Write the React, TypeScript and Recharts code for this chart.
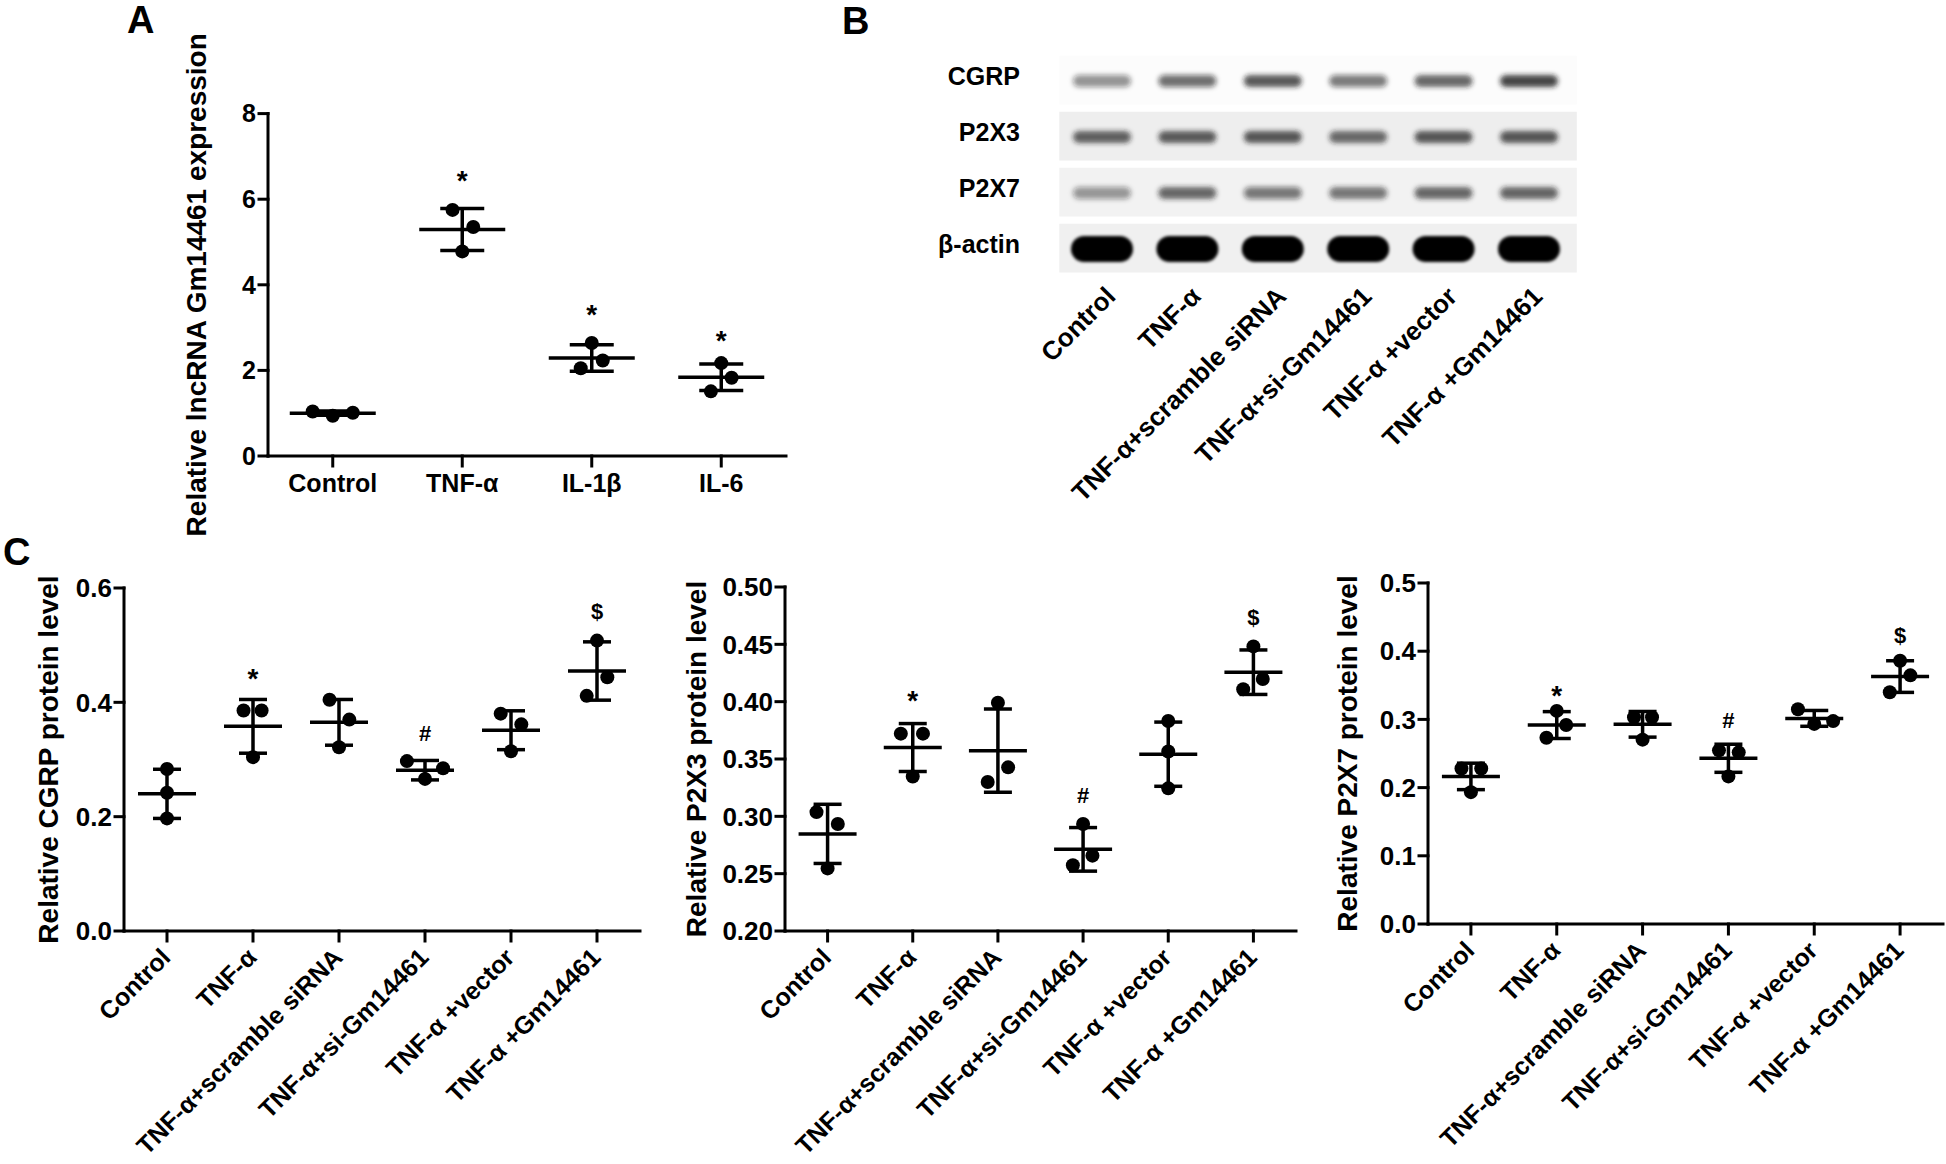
import React from 'react';
import { ScatterChart, Scatter, XAxis, YAxis, ErrorBar, ReferenceArea } from 'recharts';

const FONT = '"Liberation Sans", Arial, Helvetica, sans-serif';

// ---- Panel A: relative lncRNA Gm14461 expression ----
const A_GROUPS = ['Control', 'TNF-α', 'IL-1β', 'IL-6'];
const A_POINTS = [
  [1.04, 0.94, 1.01],
  [5.75, 4.78, 5.35],
  [2.05, 2.64, 2.23],
  [1.51, 2.17, 1.83],
];
const A_JITTER = [
  [-0.155, 0, 0.155],
  [-0.075, 0, 0.085],
  [-0.085, 0, 0.085],
  [-0.08, 0, 0.08],
];
const A_MEAN = [1.0, 5.29, 2.29, 1.84];
const A_SD = [0.05, 0.49, 0.31, 0.31];
const A_MARKS = ['', '*', '*', '*'];
const A_MARK_Y = [0, 6.59, 3.46, 2.85];
const A_TICKS = [0, 2, 4, 6, 8];

// ---- Panel B: western blot ----
const LANES = [
  'Control',
  'TNF-α',
  'TNF-α+scramble siRNA',
  'TNF-α+si-Gm14461',
  'TNF-α +vector',
  'TNF-α +Gm14461',
];
const BLOT_ROWS = ['CGRP', 'P2X3', 'P2X7', 'β-actin'];
const BLOT_DENSITY = [
  [0.45, 0.6, 0.72, 0.55, 0.66, 0.8],
  [0.68, 0.7, 0.72, 0.64, 0.72, 0.72],
  [0.42, 0.65, 0.55, 0.58, 0.65, 0.66],
  [1, 1, 1, 1, 1, 1],
];

// ---- Panel C: relative protein levels ----
const C_MARKS = ['', '*', '', '#', '', '$'];

const CGRP_POINTS = [
  [0.2834, 0.2419, 0.197],
  [0.3857, 0.3041, 0.3857],
  [0.4044, 0.3214, 0.3698],
  [0.2972, 0.2661, 0.2848],
  [0.3802, 0.3145, 0.3615],
  [0.4113, 0.508, 0.4438],
];
const CGRP_JITTER = [
  [0, 0, 0],
  [-0.11, 0, 0.1],
  [-0.11, 0, 0.12],
  [-0.21, 0, 0.21],
  [-0.12, 0, 0.12],
  [-0.12, 0, 0.12],
];
const CGRP_MEAN = [0.2399, 0.358, 0.365, 0.2813, 0.3512, 0.4548];
const CGRP_SD = [0.043, 0.047, 0.04, 0.017, 0.034, 0.051];
const CGRP_MARK_Y = [0, 0.4528, 0, 0.347, 0, 0.5585];
const CGRP_TICKS = [0, 0.2, 0.4, 0.6];

const P2X3_POINTS = [
  [0.3037, 0.2546, 0.2933],
  [0.3721, 0.3348, 0.3721],
  [0.33, 0.399, 0.3427],
  [0.2574, 0.2933, 0.2657],
  [0.3832, 0.3566, 0.3244],
  [0.4108, 0.4482, 0.4198],
];
const P2X3_JITTER = [
  [-0.13, 0, 0.12],
  [-0.14, 0, 0.12],
  [-0.12, 0, 0.12],
  [-0.12, 0, 0.11],
  [0, 0, 0],
  [-0.12, 0, 0.11],
];
const P2X3_MEAN = [0.2847, 0.36, 0.3573, 0.2712, 0.3542, 0.4257];
const P2X3_SD = [0.0258, 0.0209, 0.0363, 0.019, 0.028, 0.0194];
const P2X3_MARK_Y = [0, 0.4067, 0, 0.3186, 0, 0.474];
const P2X3_TICKS = [0.2, 0.25, 0.3, 0.35, 0.4, 0.45, 0.5];

const P2X7_POINTS = [
  [0.228, 0.1933, 0.228],
  [0.2731, 0.3125, 0.2917],
  [0.3032, 0.2703, 0.3032],
  [0.2546, 0.2164, 0.2517],
  [0.3148, 0.2934, 0.2975],
  [0.3397, 0.386, 0.3646],
];
const P2X7_JITTER = [
  [-0.11, 0, 0.12],
  [-0.12, 0, 0.11],
  [-0.1, 0, 0.11],
  [-0.11, 0, 0.12],
  [-0.19, 0, 0.22],
  [-0.12, 0, 0.12],
];
const P2X7_MEAN = [0.2164, 0.2917, 0.2928, 0.243, 0.3015, 0.3628];
const P2X7_SD = [0.0194, 0.0197, 0.0188, 0.0206, 0.0116, 0.0232];
const P2X7_MARK_Y = [0, 0.3455, 0, 0.2992, 0, 0.4236];
const P2X7_TICKS = [0, 0.1, 0.2, 0.3, 0.4, 0.5];

const AXIS = { stroke: '#000', strokeWidth: 3, strokeLinecap: 'square' as const };
const MARK_SHIFT: Record<string, number> = { '*': 0.58, '#': 0.36, $: 0.35 };

const dotShape = (r: number) => (p: any) => <circle cx={p.cx} cy={p.cy} r={r} fill="#000" />;

const meanShape = (half: number) => (p: any) => (
  <line x1={p.cx - half} x2={p.cx + half} y1={p.cy} y2={p.cy} stroke="#000" strokeWidth={3.5} />
);

const markShape = (p: any) => {
  const mark = p.payload.mark;
  const fs = mark === '*' ? 28 : 22;
  return (
    <text x={p.cx} y={p.cy + MARK_SHIFT[mark] * fs} textAnchor="middle" fontSize={fs} fontWeight={700} fontFamily={FONT} fill="#000">
      {mark}
    </text>
  );
};

const rotTick = (names: string[], dx: number, dy: number, fs: number) => (p: any) => {
  const x = p.x + dx;
  const y = p.y + dy;
  return (
    <text x={x} y={y} transform={`rotate(-45 ${x} ${y})`} textAnchor="end" fontSize={fs} fontWeight={700} fontFamily={FONT} fill="#000">
      {names[p.payload.value]}
    </text>
  );
};

const flatTick = (names: string[], dy: number, fs: number) => (p: any) => (
  <text x={p.x} y={p.y + dy} textAnchor="middle" fontSize={fs} fontWeight={700} fontFamily={FONT} fill="#000">
    {names[p.payload.value]}
  </text>
);

const yTitle = (text: string, x: number, cy: number, fs: number) => () => (
  <text x={x} y={cy} transform={`rotate(-90 ${x} ${cy})`} textAnchor="middle" dominantBaseline="central" fontSize={fs} fontWeight={700} fontFamily={FONT} fill="#000">
    {text}
  </text>
);

interface DotPlotProps {
  left: number;
  top: number;
  width: number;
  height: number;
  plot: { x0: number; x1: number; y0: number; y1: number };
  groups: string[];
  points: number[][];
  jitter: number[][];
  mean: number[];
  sd: number[];
  marks: string[];
  markY: number[];
  domain: [number, number];
  ticks: number[];
  digits: number;
  title: string;
  titleX: number;
  rotate: boolean;
  meanHalf: number;
  capHalf: number;
  dotR: number;
  tickFont: number;
}

function DotPlot(p: DotPlotProps) {
  const yw = p.plot.x0 - p.left;
  const mr = p.left + p.width - p.plot.x1;
  const mt = p.plot.y0 - p.top;
  const xh = p.top + p.height - p.plot.y1;
  const titleCy = (p.plot.y0 + p.plot.y1) / 2 - p.top;

  const pts = p.points.flatMap((g, i) => g.map((v, j) => ({ x: i + p.jitter[i][j], y: v })));
  const means = p.mean.map((m, i) => ({ x: i, y: m, sd: p.sd[i] }));
  const marks = p.marks.map((m, i) => ({ x: i, y: p.markY[i], mark: m })).filter((r) => r.mark);

  return (
    <div style={{ position: 'absolute', left: p.left, top: p.top, width: p.width, height: p.height }}>
      <ScatterChart width={p.width} height={p.height} margin={{ top: mt, right: mr, bottom: 0, left: 0 }}>
        <XAxis
          type="number"
          dataKey="x"
          domain={[-0.5, p.groups.length - 0.5]}
          ticks={p.groups.map((_, i) => i)}
          interval={0}
          height={xh}
          axisLine={AXIS}
          tickLine={AXIS}
          tickSize={10}
          tick={p.rotate ? rotTick(p.groups, 5, 16, 25) : flatTick(p.groups, 24, 25)}
        />
        <YAxis
          type="number"
          dataKey="y"
          domain={p.domain}
          ticks={p.ticks}
          allowDataOverflow
          interval={0}
          width={yw}
          axisLine={AXIS}
          tickLine={AXIS}
          tickSize={9}
          tickMargin={3}
          tickFormatter={(v: number) => v.toFixed(p.digits)}
          tick={{ fill: '#000', fontSize: p.tickFont, fontWeight: 700, fontFamily: FONT }}
          label={yTitle(p.title, p.titleX - p.left, titleCy, 28)}
        />
        <Scatter data={pts} shape={dotShape(p.dotR)} isAnimationActive={false} />
        <Scatter data={means} shape={meanShape(p.meanHalf)} isAnimationActive={false}>
          <ErrorBar dataKey="sd" direction="y" width={p.capHalf} strokeWidth={3.5} stroke="#000" isAnimationActive={false} />
        </Scatter>
        <Scatter data={marks} shape={markShape} isAnimationActive={false} />
      </ScatterChart>
    </div>
  );
}

const BAND_SIZE = [
  { w: 58, h: 12 },
  { w: 58, h: 12 },
  { w: 58, h: 12 },
  { w: 62, h: 26 },
];
const STRIP_FILL = ['#fcfcfc', '#eeeeee', '#f2f2f2', '#f0f0f0'];

const bandShape = (p: any) => {
  const s = BAND_SIZE[p.payload.row];
  const d = p.payload.d;
  return (
    <rect
      x={p.cx - s.w / 2}
      y={p.cy - s.h / 2}
      width={s.w}
      height={s.h}
      rx={s.h / 2}
      fill={d >= 1 ? '#000' : `rgba(25,25,25,${d})`}
      filter={d >= 1 ? 'url(#blurStrong)' : 'url(#blurSoft)'}
    />
  );
};

function Blot() {
  const left = 900;
  const top = 40;
  const width = 700;
  const height = 480;
  const bands = BLOT_DENSITY.flatMap((row, r) => row.map((d, l) => ({ x: l, y: r, d, row: r })));

  const rowTick = (p: any) => (
    <text x={120} y={p.y - 5} textAnchor="end" dominantBaseline="central" fontSize={25} fontWeight={700} fontFamily={FONT} fill="#000">
      {BLOT_ROWS[p.payload.value]}
    </text>
  );
  const laneTick = (p: any) => {
    const x = p.x + 15;
    const y = 258;
    return (
      <text x={x} y={y} transform={`rotate(-45 ${x} ${y})`} textAnchor="end" fontSize={26} fontWeight={700} fontFamily={FONT} fill="#000">
        {LANES[p.payload.value]}
      </text>
    );
  };

  return (
    <div style={{ position: 'absolute', left, top, width, height }}>
      <ScatterChart width={width} height={height} margin={{ top: 13, right: 23.2, bottom: 0, left: 0 }}>
        <XAxis
          type="number"
          dataKey="x"
          domain={[-0.5, 5.56]}
          ticks={[0, 1, 2, 3, 4, 5]}
          interval={0}
          height={height - 277 + top}
          axisLine={false}
          tickLine={false}
          tick={laneTick}
        />
        <YAxis
          type="number"
          dataKey="y"
          domain={[-0.5, 3.5]}
          ticks={[0, 1, 2, 3]}
          interval={0}
          reversed
          width={159.3}
          axisLine={false}
          tickLine={false}
          tick={rowTick}
        />
        {BLOT_ROWS.map((_, r) => (
          <ReferenceArea key={r} x1={-0.5} x2={5.56} y1={r - 0.45} y2={r + 0.42} fill={STRIP_FILL[r]} fillOpacity={1} stroke="none" />
        ))}
        <Scatter data={bands} shape={bandShape} isAnimationActive={false} />
      </ScatterChart>
    </div>
  );
}

export default function App() {
  return (
    <div style={{ position: 'relative', width: 1946, height: 1164, background: '#fff', overflow: 'hidden' }}>
      <style>{'body{margin:0;}'}</style>
      <svg width={0} height={0} style={{ position: 'absolute' }}>
        <defs>
          <filter id="blurSoft" x="-30%" y="-150%" width="160%" height="400%">
            <feGaussianBlur stdDeviation="2.6" />
          </filter>
          <filter id="blurStrong" x="-30%" y="-100%" width="160%" height="300%">
            <feGaussianBlur stdDeviation="1.6" />
          </filter>
        </defs>
      </svg>

      <DotPlot
        left={120}
        top={0}
        width={700}
        height={540}
        plot={{ x0: 268, x1: 786, y0: 113.6, y1: 456 }}
        groups={A_GROUPS}
        points={A_POINTS}
        jitter={A_JITTER}
        mean={A_MEAN}
        sd={A_SD}
        marks={A_MARKS}
        markY={A_MARK_Y}
        domain={[0, 8]}
        ticks={A_TICKS}
        digits={0}
        title="Relative lncRNA Gm14461 expression"
        titleX={197}
        rotate={false}
        meanHalf={43}
        capHalf={22}
        dotR={7}
        tickFont={25}
      />

      <Blot />

      <DotPlot
        left={0}
        top={540}
        width={650}
        height={624}
        plot={{ x0: 124, x1: 640, y0: 588, y1: 931 }}
        groups={LANES}
        points={CGRP_POINTS}
        jitter={CGRP_JITTER}
        mean={CGRP_MEAN}
        sd={CGRP_SD}
        marks={C_MARKS}
        markY={CGRP_MARK_Y}
        domain={[0, 0.6]}
        ticks={CGRP_TICKS}
        digits={1}
        title="Relative CGRP protein level"
        titleX={48}
        rotate
        meanHalf={29}
        capHalf={14}
        dotR={7}
        tickFont={26}
      />
      <DotPlot
        left={650}
        top={540}
        width={660}
        height={624}
        plot={{ x0: 785, x1: 1296, y0: 587, y1: 931 }}
        groups={LANES}
        points={P2X3_POINTS}
        jitter={P2X3_JITTER}
        mean={P2X3_MEAN}
        sd={P2X3_SD}
        marks={C_MARKS}
        markY={P2X3_MARK_Y}
        domain={[0.2, 0.5]}
        ticks={P2X3_TICKS}
        digits={2}
        title="Relative P2X3 protein level"
        titleX={696}
        rotate
        meanHalf={29}
        capHalf={14}
        dotR={7}
        tickFont={26}
      />
      <DotPlot
        left={1310}
        top={540}
        width={636}
        height={624}
        plot={{ x0: 1428, x1: 1943, y0: 583, y1: 924 }}
        groups={LANES}
        points={P2X7_POINTS}
        jitter={P2X7_JITTER}
        mean={P2X7_MEAN}
        sd={P2X7_SD}
        marks={C_MARKS}
        markY={P2X7_MARK_Y}
        domain={[0, 0.5]}
        ticks={P2X7_TICKS}
        digits={1}
        title="Relative P2X7 protein level"
        titleX={1347}
        rotate
        meanHalf={29}
        capHalf={14}
        dotR={7}
        tickFont={26}
      />

      <svg width={1946} height={1164} style={{ position: 'absolute', left: 0, top: 0, pointerEvents: 'none' }}>
        <text x={127} y={33} fontSize={38} fontWeight={700} fontFamily={FONT} fill="#000">A</text>
        <text x={842} y={34} fontSize={38} fontWeight={700} fontFamily={FONT} fill="#000">B</text>
        <text x={3} y={565} fontSize={38} fontWeight={700} fontFamily={FONT} fill="#000">C</text>
      </svg>
    </div>
  );
}
